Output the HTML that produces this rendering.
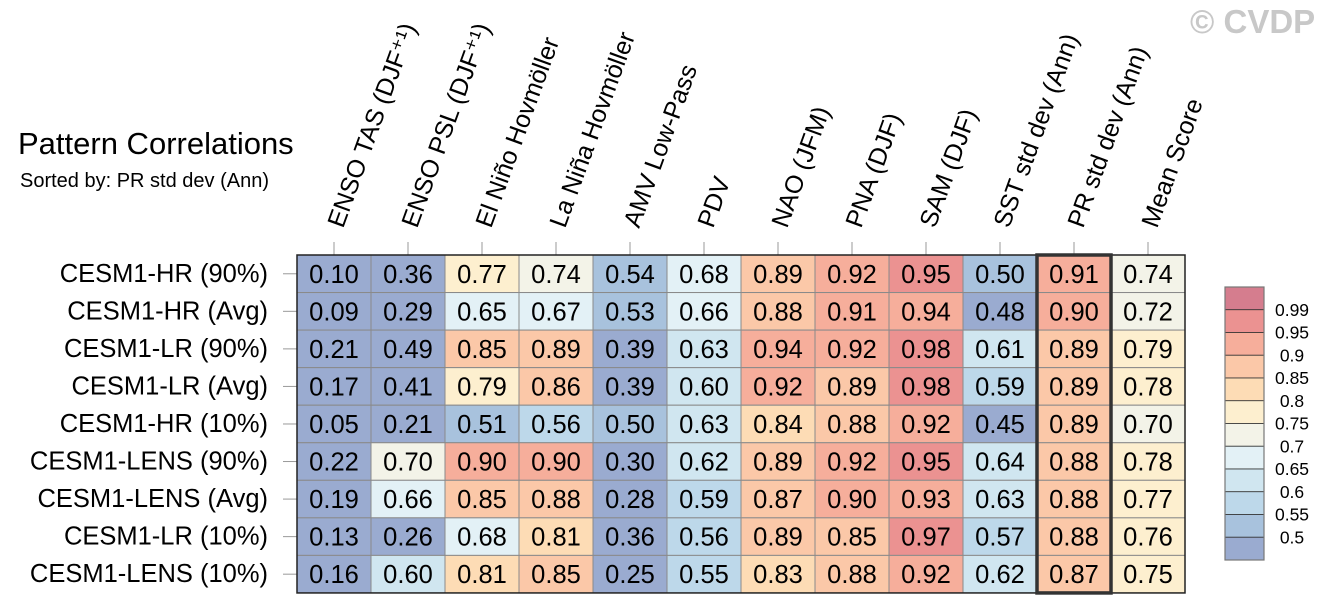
<!DOCTYPE html>
<html><head><meta charset="utf-8"><style>
body{margin:0;background:#fff}
svg{display:block;font-family:"Liberation Sans",sans-serif}
</style></head><body>
<svg id="c" width="1330" height="614" xmlns="http://www.w3.org/2000/svg">
<text x="1190" y="33" font-size="33" font-weight="bold" fill="#c8c8c8">© CVDP</text>
<text x="18" y="154" font-size="31" fill="#000">Pattern Correlations</text>
<text x="20" y="187" font-size="20" fill="#000">Sorted by: PR std dev (Ann)</text>
<g id="cells"></g>
<g id="legend"></g>
</svg>
<script>
const columns=["ENSO TAS (DJF⁺¹)","ENSO PSL (DJF⁺¹)","El Niño Hovmöller","La Niña Hovmöller","AMV Low-Pass","PDV","NAO (JFM)","PNA (DJF)","SAM (DJF)","SST std dev (Ann)","PR std dev (Ann)","Mean Score"];
const rows=["CESM1-HR (90%)","CESM1-HR (Avg)","CESM1-LR (90%)","CESM1-LR (Avg)","CESM1-HR (10%)","CESM1-LENS (90%)","CESM1-LENS (Avg)","CESM1-LR (10%)","CESM1-LENS (10%)"];
const values=[
[0.10,0.36,0.77,0.74,0.54,0.68,0.89,0.92,0.95,0.50,0.91,0.74],
[0.09,0.29,0.65,0.67,0.53,0.66,0.88,0.91,0.94,0.48,0.90,0.72],
[0.21,0.49,0.85,0.89,0.39,0.63,0.94,0.92,0.98,0.61,0.89,0.79],
[0.17,0.41,0.79,0.86,0.39,0.60,0.92,0.89,0.98,0.59,0.89,0.78],
[0.05,0.21,0.51,0.56,0.50,0.63,0.84,0.88,0.92,0.45,0.89,0.70],
[0.22,0.70,0.90,0.90,0.30,0.62,0.89,0.92,0.95,0.64,0.88,0.78],
[0.19,0.66,0.85,0.88,0.28,0.59,0.87,0.90,0.93,0.63,0.88,0.77],
[0.13,0.26,0.68,0.81,0.36,0.56,0.89,0.85,0.97,0.57,0.88,0.76],
[0.16,0.60,0.81,0.85,0.25,0.55,0.83,0.88,0.92,0.62,0.87,0.75]];
const levels=[0.5,0.55,0.6,0.65,0.7,0.75,0.8,0.85,0.9,0.95,0.99];
const levelLabels=["0.5","0.55","0.6","0.65","0.7","0.75","0.8","0.85","0.9","0.95","0.99"];
const palette=["#9aabd0","#a8c2dd","#bdd8ea","#d0e6f0","#e3f1f6","#f3f3e8","#fdefcf","#fddcb5","#fbc8a8","#f6ae9b","#eb9291","#d57d8e"];
const NS="http://www.w3.org/2000/svg";
const X0=297,Y0=255,CW=74,RH=37.55;
const xs=i=>X0+i*CW, ys=j=>Y0+j*RH;
function colorOf(v){let k=0;while(k<levels.length&&v>=levels[k])k++;return palette[k];}
function mk(t,a,p){const e=document.createElementNS(NS,t);for(const k in a)e.setAttribute(k,a[k]);p.appendChild(e);return e;}
const g=document.getElementById('cells');
rows.forEach((r,j)=>{
 columns.forEach((c,i)=>{
  const v=values[j][i];
  const rc=mk('rect',{x:xs(i),y:ys(j),width:CW,height:RH,fill:colorOf(v),stroke:'#8a8a8a','stroke-width':1},g);
  
  
  const t=mk('text',{x:xs(i)+CW/2,y:ys(j)+RH/2+9,'font-size':25.5,'text-anchor':'middle',fill:'#000'},g);
  t.textContent=v.toFixed(2);
  
  
 });
 const tk=mk('line',{x1:X0-14,x2:X0,y1:ys(j)+RH/2,y2:ys(j)+RH/2,stroke:'#999'},g);
 
 
 const lb=mk('text',{x:X0-29,y:ys(j)+RH/2+8,'font-size':25.5,'text-anchor':'end',fill:'#000'},g);
 lb.textContent=r;
 
 
});
columns.forEach((c,i)=>{
 const cx=xs(i)+CW/2;
 const tk=mk('line',{x1:cx,x2:cx,y1:Y0-13,y2:Y0,stroke:'#999'},g);
 
 
 const t=mk('text',{x:cx+9,y:229,'font-size':25,fill:'#000',transform:`rotate(-70 ${cx+9} 229)`},g);
 t.textContent=c;
 
 
});
const fr=mk('rect',{x:X0,y:Y0,width:CW*12,height:RH*9,fill:'none',stroke:'#222','stroke-width':1.5},g);


const hb=mk('rect',{x:xs(10),y:Y0,width:CW,height:RH*9,fill:'none',stroke:'#333','stroke-width':3.5},g);


const lg=document.getElementById('legend');
const LX=1225,LY=287,LW=39,LH=22.75;
palette.forEach((p,k)=>{
 const idx=palette.length-1-k;
 const r=mk('rect',{x:LX,y:LY+k*LH,width:LW,height:LH,fill:palette[idx],stroke:'#333','stroke-width':0.8},lg);
 
 
});
levels.forEach((l,k)=>{
 const y=LY+(levels.length-k)*LH;
 const t=mk('text',{x:1292,y:y+6,'font-size':17.5,'text-anchor':'middle',fill:'#000'},lg);
 t.textContent=levelLabels[k];
 
 
});
const lf=mk('rect',{x:LX,y:LY,width:LW,height:LH*12,fill:'none',stroke:'#777','stroke-width':1.2},lg);


</script>
</body></html>
